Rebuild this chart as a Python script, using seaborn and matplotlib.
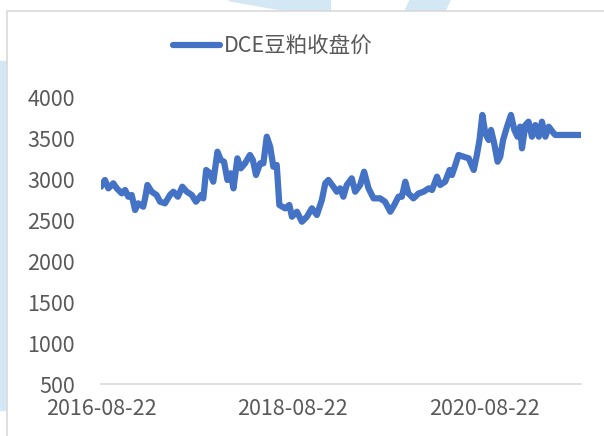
import matplotlib
matplotlib.use("Agg")
import matplotlib.pyplot as plt
import matplotlib.dates as mdates
from matplotlib.patches import Rectangle, Polygon
import pandas as pd
import seaborn as sns

# DCE豆粕收盘价, 读图估计 (距 2016-08-22 的天数, 收盘价)
start_date = "2016-08-22"
day_offsets = [0, 15, 28, 47, 60, 79, 92, 104, 117, 130, 142, 161, 168, 177, 193, 212,
               225, 244, 263, 276, 293, 310, 327, 346, 362, 382, 390, 401, 416, 428,
               444, 457, 469, 482, 495, 505, 520, 533, 549, 568, 579, 591, 607, 619,
               632, 645, 657, 670, 680, 702, 718, 728, 747, 766, 785, 804, 823, 842,
               855, 867, 886, 899, 912, 924, 937, 956, 969, 988, 1003, 1020, 1039, 1064,
               1083, 1103, 1118, 1134, 1147, 1160, 1172, 1191, 1211, 1230, 1249, 1262,
               1281, 1293, 1312, 1329, 1338, 1351, 1363, 1382, 1402, 1421, 1433, 1443,
               1454, 1465, 1478, 1487, 1499, 1512, 1522, 1533, 1548, 1563, 1576, 1588,
               1598, 1605, 1618, 1630, 1643, 1656, 1669, 1681, 1694, 1707, 1726, 1732,
               1829]
close_price = [2906, 2988, 2886, 2947, 2886, 2825, 2866, 2784, 2805, 2622, 2703, 2662,
               2764, 2927, 2845, 2805, 2723, 2703, 2805, 2845, 2784, 2906, 2845, 2805,
               2723, 2805, 2764, 3110, 3069, 2967, 3333, 3231, 3211, 2988, 3069, 2886,
               3252, 3130, 3191, 3293, 3231, 3049, 3191, 3191, 3516, 3394, 3150, 3171,
               2683, 2642, 2683, 2540, 2601, 2479, 2540, 2642, 2561, 2744, 2947, 2988,
               2906, 2845, 2886, 2784, 2927, 3008, 2845, 2927, 3089, 2886, 2764, 2764,
               2723, 2601, 2683, 2784, 2784, 2967, 2825, 2764, 2825, 2845, 2886, 2866,
               3028, 2927, 2967, 3110, 3049, 3171, 3293, 3272, 3252, 3110, 3293, 3476,
               3781, 3557, 3476, 3598, 3435, 3211, 3272, 3476, 3638, 3781, 3598, 3516,
               3638, 3374, 3658, 3699, 3516, 3658, 3516, 3699, 3516, 3638, 3557, 3537,
               3537]
x_ticks = ["2016-08-22", "2018-08-22", "2020-08-22"]
y_ticks = [500, 1000, 1500, 2000, 2500, 3000, 3500, 4000]
series_name = "DCE豆粕收盘价"

df = pd.DataFrame({
    "date": pd.to_datetime(start_date) + pd.to_timedelta(day_offsets, unit="D"),
    "price": close_price,
})

sns.set_style("white")
plt.rcParams["font.family"] = ["Noto Sans CJK SC", "DejaVu Sans"]

fig = plt.figure(figsize=(6.04, 4.36), dpi=100)
fig.patch.set_facecolor("white")

# 背景水印 (浅蓝)
wm = "#d3e7f5"
fig.patches.append(Rectangle((0, 0.06), 7 / 604, 0.80, transform=fig.transFigure,
                             color=wm, zorder=-3))
fig.patches.append(Polygon([(228 / 604, 1), (330 / 604, 1), (330 / 604, 1 - 11 / 436),
                            (290 / 604, 1 - 11 / 436)], closed=True,
                           transform=fig.transFigure, color=wm, zorder=-3))
fig.patches.append(Polygon([(410 / 604, 1), (450 / 604, 1), (445 / 604, 1 - 11 / 436),
                            (405 / 604, 1 - 11 / 436)], closed=True,
                           transform=fig.transFigure, color=wm, zorder=-3))
# 图表区边框
fig.patches.append(Rectangle((7 / 604, -0.1), 1.0, 1.1 - 11 / 436, transform=fig.transFigure,
                             fill=True, facecolor="white", edgecolor="#d9d9d9",
                             linewidth=1.2, zorder=-2))

ax = fig.add_axes([101 / 604, 1 - 384 / 436, 480 / 604, 287 / 436])
ax.set_facecolor("none")

sns.lineplot(data=df, x="date", y="price", ax=ax, color="#4472C4", linewidth=4.5,
             label=series_name, solid_capstyle="round", solid_joinstyle="round")

ax.set_xlim(pd.to_datetime(start_date), df["date"].iloc[-1] + pd.Timedelta(days=1))
ax.set_ylim(500, 4000)
ax.set_yticks(y_ticks)
ax.set_xticks(pd.to_datetime(x_ticks))
ax.xaxis.set_major_formatter(mdates.DateFormatter("%Y-%m-%d"))
ax.set_xlabel("")
ax.set_ylabel("")

for s in ["top", "right", "left"]:
    ax.spines[s].set_visible(False)
ax.spines["bottom"].set_color("#d9d9d9")
ax.spines["bottom"].set_linewidth(1.2)
ax.tick_params(axis="x", length=5, width=1.2, color="#d9d9d9", direction="out",
               labelsize=15.5, labelcolor="#595959", pad=5)
ax.tick_params(axis="y", length=0, labelsize=15.5, labelcolor="#595959", pad=18.7)
for lbl in ax.get_xticklabels() + ax.get_yticklabels():
    lbl.set_fontweight("light")

leg = ax.legend(loc="center left", bbox_to_anchor=(173 / 604, 1 - 47 / 436),
                bbox_transform=fig.transFigure, frameon=False, fontsize=15.5,
                handlelength=2.2, handletextpad=0.15, borderpad=0, borderaxespad=0,
                labelcolor="#595959")
for t in leg.get_texts():
    t.set_fontweight("light")

fig.savefig("out.png", dpi=100)
